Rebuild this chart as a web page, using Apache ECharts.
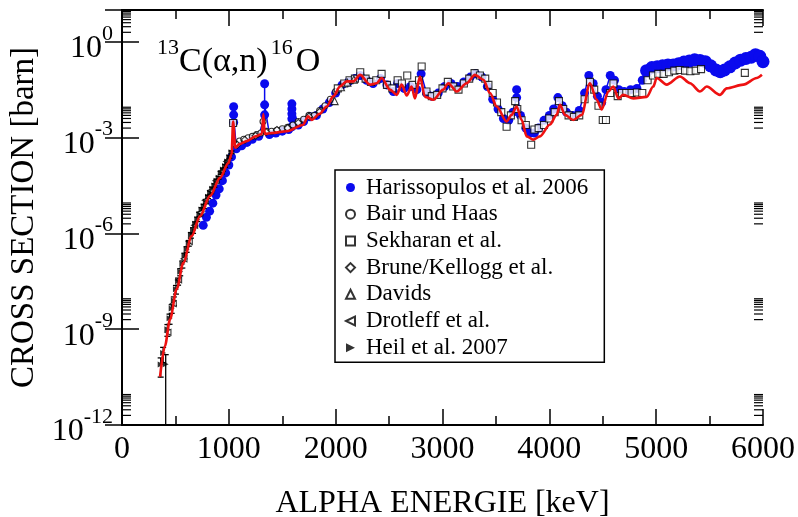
<!DOCTYPE html>
<html><head><meta charset="utf-8">
<script src="https://cdn.jsdelivr.net/npm/echarts@6/dist/echarts.min.js"></script>
<style>html,body{margin:0;padding:0;background:#fff}#c{width:798px;height:517px}</style>
</head><body><div id="c"></div>
<script>
// ---- axis ticks ----
const xTickLabels = [0, 1000, 2000, 3000, 4000, 5000, 6000];
const yMajorExps = [-12, -9, -6, -3, 0];

// ---- red curve (evaluation) ----
const fitE = [356,402,449,512,574,652,730,824,917,995,1026,1040,1060,1100,1167,1250,1310,1323,1336,1400,1542,1694,1742,1775,1850,1916,1980,2040,2103,2165,2228,2321,2384,2431,2508,2571,2618,2665,2711,2742,2789,2836,2914,3007,3054,3133,3226,3304,3382,3445,3507,3600,3647,3694,3741,3788,3850,3912,4006,4068,4100,4146,4224,4303,4380,4443,4490,4552,4599,4646,4692,4786,4911,4973,5005,5098,5223,5317,5410,5473,5597,5660,5816,5941,5990];
const fitS = [3.2e-11,3.0e-10,2.0e-9,1.8e-8,1.2e-7,8.3e-7,3.5e-6,1.5e-5,5.5e-5,1.6e-4,3.0e-4,3.2e-3,4.9e-4,6.3e-4,7.8e-4,1.1e-3,1.3e-3,5.5e-3,1.3e-3,1.4e-3,1.6e-3,2.5e-3,4.7e-3,3.6e-3,5.6e-3,9.5e-3,2.0e-2,4.0e-2,5.8e-2,5.8e-2,9.3e-2,4.6e-2,5.1e-2,7.4e-2,3.2e-2,2.2e-2,4.6e-2,2.1e-2,4.0e-2,1.7e-2,8.3e-2,1.9e-2,1.55e-2,3.2e-2,5.1e-2,2.8e-2,5.1e-2,9.3e-2,6.5e-2,2.5e-2,9.5e-3,3.2e-3,5.2e-3,9.5e-3,3.6e-3,1.1e-3,8.7e-4,1.1e-3,2.6e-3,5.2e-3,1.07e-2,5.2e-3,3.6e-3,5.2e-3,5.1e-2,1.55e-2,7.6e-3,2.8e-2,4.0e-2,1.7e-2,2.2e-2,1.7e-2,1.9e-2,4.0e-2,7.4e-2,4.6e-2,8.3e-2,5.1e-2,2.8e-2,4.0e-2,2.2e-2,3.5e-2,4.6e-2,7.4e-2,9.3e-2];

// ---- Harissopulos et al. 2006 ----
const harE = [760,790,820,850,880,910,940,970,1000,1025,1045,1045,1045,1070,1120,1170,1220,1280,1335,1335,1335,1380,1440,1500,1560,1590,1590,1590,1590,1590,1650,1700,1760,1820,1880,1940,2000,2060,2120,2180,2230,2290,2350,2420,2480,2540,2580,2640,2700,2760,2800,2850,2900,2960,3020,3080,3140,3200,3260,3310,3370,3420,3470,3520,3570,3620,3660,3694,3694,3730,3780,3820,3860,3900,3950,4000,4040,4080,4120,4160,4220,4280,4330,4370,4410,4450,4490,4530,4570,4610,4650,4700,4760,4820,4870,4910,4960,5010,5060,5110,5160,5210,5260,5310,5360,5410,5460,5510,5560,5600,5640,5690,5740,5790,5840,5890,5930,5970,6000];
const harS = [1.8e-6,3.2e-6,5.0e-6,8.9e-6,1.6e-5,2.5e-5,4.5e-5,7.9e-5,1.4e-4,2.5e-4,3.0e-3,9.3e-3,5.2e-3,4.5e-4,5.6e-4,7.1e-4,8.9e-4,1.1e-3,5.2e-3,4.9e-2,1.07e-2,1.26e-3,1.4e-3,1.6e-3,1.8e-3,2.2e-3,3.9e-3,5.6e-3,7.9e-3,1.15e-2,2.5e-3,3.2e-3,4.5e-3,5.0e-3,7.9e-3,1.26e-2,2.5e-2,4.5e-2,5.6e-2,7.1e-2,8.9e-2,6.3e-2,5.0e-2,7.1e-2,4.5e-2,2.8e-2,5.0e-2,3.5e-2,4.0e-2,3.2e-2,0.1,2.5e-2,2.0e-2,2.5e-2,4.0e-2,5.0e-2,4.0e-2,5.6e-2,7.9e-2,0.1,7.9e-2,4.0e-2,1.6e-2,7.9e-3,4.0e-3,3.5e-3,6.3e-3,1.8e-2,3.2e-2,5.0e-3,2.0e-3,1.4e-3,1.4e-3,2.0e-3,3.5e-3,5.0e-3,7.9e-3,1.8e-2,1.0e-2,6.3e-3,5.0e-3,7.1e-3,2.5e-2,8.9e-2,5.0e-2,2.0e-2,1.26e-2,3.2e-2,8.9e-2,6.3e-2,3.2e-2,2.8e-2,3.2e-2,3.5e-2,6.3e-2,0.126,0.158,0.166,0.178,0.19,0.19,0.209,0.234,0.251,0.275,0.263,0.24,0.178,0.132,0.117,0.132,0.166,0.219,0.269,0.302,0.331,0.398,0.355,0.24];

// ---- Bair und Haas ----
const bairE = [1060,1100,1140,1180,1220,1260,1300,1320,1350,1400,1450,1500,1550,1600,1650,1700,1750,1800,1850,1900,1950,2000];
const bairS = [6.3e-4,7.9e-4,8.9e-4,1.0e-3,1.1e-3,1.26e-3,1.4e-3,3.2e-3,1.6e-3,1.6e-3,1.7e-3,1.9e-3,2.1e-3,2.5e-3,3.2e-3,3.8e-3,5.0e-3,5.0e-3,7.1e-3,1.0e-2,1.6e-2,2.8e-2];

// ---- Sekharan et al. ----
const sekE = [1040,2020,2080,2130,2180,2230,2280,2330,2380,2430,2480,2530,2580,2620,2670,2720,2780,2805,2850,2900,2950,3000,3050,3100,3150,3200,3250,3300,3350,3400,3430,3470,3510,3550,3600,3640,3680,3700,3740,3780,3830,3860,3900,3950,4000,4050,4090,4130,4180,4230,4280,4330,4380,4420,4460,4500,4530,4570,4600,4640,4680,4720,4770,4820,4870,4920,4970,5020,5070,5120,5170,5220,5270,5320,5370,5420,5830];
const sekS = [2.9e-3,3.5e-2,5.0e-2,6.3e-2,7.1e-2,0.112,7.1e-2,5.6e-2,6.3e-2,0.1,4.5e-2,3.5e-2,6.3e-2,5.0e-2,8.9e-2,4.5e-2,6.3e-2,0.17,2.8e-2,2.0e-2,2.2e-2,3.5e-2,5.6e-2,4.0e-2,3.2e-2,5.0e-2,7.1e-2,0.105,8.9e-2,7.1e-2,4.5e-2,2.5e-2,1.26e-2,6.3e-3,2.2e-3,5.0e-3,1.4e-2,7.9e-3,3.5e-3,2.5e-3,6.0e-4,1.8e-3,2.0e-3,2.5e-3,4.0e-3,6.3e-3,1.4e-2,7.9e-3,5.0e-3,4.5e-3,5.0e-3,1.6e-2,5.6e-2,3.2e-2,1.0e-2,3.6e-3,3.6e-3,2.5e-2,5.0e-2,2.0e-2,2.5e-2,2.5e-2,2.5e-2,2.6e-2,2.5e-2,6.3e-2,8.9e-2,0.1,0.1,0.112,0.126,0.132,0.126,0.12,0.126,0.141,0.107];

// ---- Brune/Kellogg et al. ----
const bruE = [1080,1150,1250,1350,1450,1550,1650,1750,1850];
const bruS = [6.0e-4,8.5e-4,1.15e-3,1.5e-3,1.75e-3,2.0e-3,2.9e-3,4.6e-3,6.5e-3];

// ---- Davids ----
const davE = [1990,2050,2110,2170];
const davS = [1.4e-2,3.8e-2,5.3e-2,6.6e-2];

// ---- Drotleff et al. ----
const droE = [430,480,530,580,630,680,730,780,830,880,930,980];
const droS = [8.0e-10,6.3e-9,3.5e-8,1.6e-7,5.6e-7,1.8e-6,4.5e-6,1.1e-5,2.2e-5,4.5e-5,8.9e-5,1.8e-4];

// ---- Heil et al. 2007 (value and relative error) ----
const heilE = [362,385,409,425,445,465,485,505,525,545,565,585,605,625,645,665,685,705,725,745,765,785,805,825,845,865,885,905,925,945,965,985,1005,1025];
const heilS = [7.9e-11,1.8e-10,8.0e-11,1.0e-9,2.2e-9,4.5e-9,7.9e-9,1.8e-8,3.2e-8,6.3e-8,1.1e-7,2.0e-7,3.2e-7,5.0e-7,8.9e-7,1.26e-6,2.0e-6,2.8e-6,4.0e-6,5.6e-6,7.1e-6,1.0e-5,1.4e-5,1.9e-5,2.5e-5,3.2e-5,4.5e-5,5.6e-5,7.9e-5,1.0e-4,1.3e-4,1.8e-4,2.5e-4,3.5e-4];
const heilErr = [0.6,0.5,0.999,0.4,0.35,0.3,0.3,0.3,0.25,0.25,0.25,0.2,0.2,0.2,0.2,0.2,0.15,0.15,0.15,0.15,0.15,0.15,0.12,0.12,0.12,0.12,0.1,0.1,0.1,0.1,0.1,0.1,0.1,0.1];

const names = ['Harissopulos et al. 2006','Bair und Haas','Sekharan et al.','Brune/Kellogg et al.','Davids','Drotleff et al.','Heil et al. 2007'];

const FONT = "'Liberation Serif','Times New Roman',serif";
const zip = (a, b) => a.map((v, i) => [v, b[i]]);
const xMin = xTickLabels[0], xMax = xTickLabels[xTickLabels.length - 1];
const xStep = xTickLabels[1] - xTickLabels[0];
const yMin = Math.pow(10, yMajorExps[0]);
const yMax = 10;

const minorVals = [];
yMajorExps.forEach(e => { for (let m = 2; m <= 9; m++) minorVals.push([xMin, m * Math.pow(10, e)]); });

const openStyle = { color: '#fff', borderColor: '#000', borderWidth: 1.1 };
const LTRI = 'path://M0,5 L10,0 L10,10 Z';
const RTRI = 'path://M0,0 L10,5 L0,10 Z';

const chart = echarts.init(document.getElementById('c'));
chart.setOption({
  animation: false,
  backgroundColor: '#fff',
  title: {
    text: '{s|13}{b|C(α,n)}{t|16}{b|O}',
    left: 157, top: 45, padding: 0,
    textStyle: {
      fontWeight: 'normal',
      rich: {
        b: { fontFamily: FONT, fontSize: 34, lineHeight: 34, fontWeight: 'normal', color: '#000', verticalAlign: 'bottom' },
        s: { fontFamily: FONT, fontSize: 22, lineHeight: 22, fontWeight: 'normal', color: '#000', verticalAlign: 'bottom', padding: [0, 0, 20, 0] },
        t: { fontFamily: FONT, fontSize: 22, lineHeight: 22, fontWeight: 'normal', color: '#000', verticalAlign: 'bottom', padding: [0, 3, 20, 3] }
      }
    }
  },
  legend: {
    orient: 'vertical', left: 335, top: 170,
    padding: [6, 16, 3, 10],
    itemWidth: 9, itemHeight: 9, itemGap: 3.7,
    borderColor: '#000', borderWidth: 1.5, backgroundColor: '#fff',
    textStyle: { fontFamily: FONT, fontSize: 23, lineHeight: 23, color: '#000', padding: [0, 0, 0, 6] },
    data: names.map((n, i) => i === 0 ? { name: n, icon: 'circle' } : { name: n })
  },
  grid: { left: 122, right: 35, top: 10, bottom: 92, outerBoundsMode: 'none', containLabel: false },
  xAxis: [{
    type: 'value', min: xMin, max: xMax, interval: xStep, position: 'bottom',
    name: 'ALPHA ENERGIE [keV]', nameLocation: 'middle', nameGap: 71,
    nameTextStyle: { fontFamily: FONT, fontSize: 32, lineHeight: 16, color: '#000' },
    axisLine: { lineStyle: { color: '#000', width: 2 } },
    axisTick: { inside: true, length: 16, lineStyle: { color: '#000', width: 1.5 } },
    minorTick: { show: true, splitNumber: 2, length: 9, lineStyle: { color: '#000', width: 1.5 } },
    splitLine: { show: false },
    axisLabel: { fontFamily: FONT, fontSize: 32, lineHeight: 32, color: '#000', margin: 9, showMaxLabel: true, showMinLabel: true, formatter: v => String(v) }
  }, {
    type: 'value', min: xMin, max: xMax, interval: xStep, position: 'top',
    axisLine: { lineStyle: { color: '#000', width: 2 } },
    axisTick: { inside: true, length: 16, lineStyle: { color: '#000', width: 1.5 } },
    minorTick: { show: true, splitNumber: 2, length: 9, lineStyle: { color: '#000', width: 1.5 } },
    splitLine: { show: false }, axisLabel: { show: false }
  }],
  yAxis: [{
    type: 'log', logBase: 10, min: yMin, max: yMax, interval: 3, position: 'left',
    name: 'CROSS SECTION [barn]', nameLocation: 'middle', nameGap: 72,
    nameTextStyle: { fontFamily: FONT, fontSize: 33, lineHeight: 33, color: '#000' },
    axisLine: { lineStyle: { color: '#000', width: 2 } },
    axisTick: { inside: true, length: 17, lineStyle: { color: '#000', width: 1.5 } },
    splitLine: { show: false },
    axisLabel: {
      margin: 9, showMinLabel: true, padding: [14, 0, 0, 0],
      formatter: v => { const e = Math.round(Math.log10(v)); return e > 0 ? '' : '{b|10}{s|' + e + '}'; },
      rich: {
        b: { fontFamily: FONT, fontSize: 32, lineHeight: 32, color: '#000', verticalAlign: 'bottom' },
        s: { fontFamily: FONT, fontSize: 22, lineHeight: 22, color: '#000', verticalAlign: 'bottom', padding: [4, 0, 20, 0] }
      }
    }
  }, {
    type: 'log', logBase: 10, min: yMin, max: yMax, interval: 3, position: 'right',
    axisLine: { lineStyle: { color: '#000', width: 2 } },
    axisTick: { inside: true, length: 17, lineStyle: { color: '#000', width: 1.5 } },
    splitLine: { show: false }, axisLabel: { show: false }
  }],
  series: [
    {
      type: 'custom', name: 'minorTicks', silent: true, z: 1,
      data: minorVals,
      renderItem: (p, api) => {
        const v = api.value(1);
        const a = api.coord([xMin, v]), b = api.coord([xMax, v]);
        return { type: 'group', children: [
          { type: 'line', shape: { x1: a[0], y1: a[1], x2: a[0] + 9, y2: a[1] }, style: { stroke: '#000', lineWidth: 1.2 } },
          { type: 'line', shape: { x1: b[0], y1: b[1], x2: b[0] - 9, y2: b[1] }, style: { stroke: '#000', lineWidth: 1.2 } }
        ] };
      }
    },
    {
      name: names[0], type: 'line', z: 2, data: zip(harE, harS),
      symbol: 'circle', symbolSize: v => (v[0] > 4880 ? 13 : 9), showAllSymbol: true,
      itemStyle: { color: '#0a0aee' }, lineStyle: { color: '#0a0aee', width: 1.5 }
    },
    { name: names[1], type: 'scatter', z: 3, data: zip(bairE, bairS), symbol: 'circle', symbolSize: 6, itemStyle: openStyle },
    { name: names[2], type: 'scatter', z: 3, data: zip(sekE, sekS), symbol: 'rect', symbolSize: 7, itemStyle: openStyle },
    { name: names[3], type: 'scatter', z: 3, data: zip(bruE, bruS), symbol: 'diamond', symbolSize: 7, itemStyle: openStyle },
    { name: names[4], type: 'scatter', z: 3, data: zip(davE, davS), symbol: 'triangle', symbolSize: 7, itemStyle: openStyle },
    { name: names[5], type: 'scatter', z: 3, data: zip(droE, droS), symbol: LTRI, symbolSize: 6, itemStyle: openStyle },
    {
      type: 'custom', name: 'heilErr', silent: true, z: 3, clip: true,
      data: heilE.map((e, i) => [e, heilS[i] * (1 - heilErr[i]), heilS[i] * (1 + heilErr[i])]),
      renderItem: (p, api) => {
        const x = api.value(0);
        const t = api.coord([x, api.value(2)]), b = api.coord([x, api.value(1)]);
        const st = { stroke: '#000', lineWidth: 1.3 };
        return { type: 'group', children: [
          { type: 'line', shape: { x1: t[0], y1: t[1], x2: b[0], y2: b[1] }, style: st },
          { type: 'line', shape: { x1: t[0] - 3, y1: t[1], x2: t[0] + 3, y2: t[1] }, style: st },
          { type: 'line', shape: { x1: b[0] - 3, y1: b[1], x2: b[0] + 3, y2: b[1] }, style: st }
        ] };
      }
    },
    { name: names[6], type: 'scatter', z: 3, data: zip(heilE, heilS), symbol: RTRI, symbolSize: 6, itemStyle: { color: '#000' } },
    {
      name: 'fit', type: 'line', z: 5, data: zip(fitE, fitS), symbol: 'none',
      smooth: 0.3, smoothMonotone: 'x',
      lineStyle: { color: '#ee1111', width: 2.6 }
    }
  ]
});
</script>
</body></html>
